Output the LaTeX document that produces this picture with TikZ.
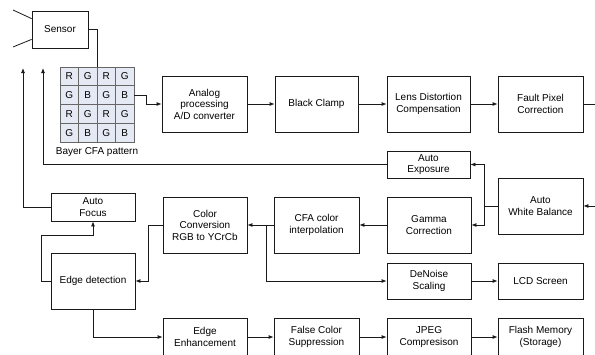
\documentclass[tikz,border=0pt]{standalone}
\usepackage{fontspec}
\setmainfont{Liberation Sans}
\usetikzlibrary{arrows.meta,calc}
\definecolor{cellblue}{HTML}{E4E9F3}
\definecolor{linecol}{HTML}{1A1A1A}
\begin{document}
\begin{tikzpicture}[x=1pt,y=-1pt,
  box/.style={draw=linecol,line width=0.8pt,rectangle,align=center,inner sep=1pt,
    font=\fontsize{10}{11.5}\selectfont},
  conn/.style={draw=linecol,line width=0.8pt},
  arr/.style={conn,-{Latex[length=5pt,width=4pt]}}]
\useasboundingbox (0,0) rectangle (595,354);
\clip (0,0) rectangle (595,354);
% boxes
\node[box,minimum width=56pt,minimum height=37pt] (sensor) at (60,29.5) {Sensor};
\node[box,minimum width=85pt,minimum height=56pt] (analog) at (204.5,104) {Analog\\processing\\A/D converter};
\node[box,minimum width=83pt,minimum height=56pt] (black) at (316.5,104) {Black Clamp};
\node[box,minimum width=83pt,minimum height=56pt] (lens) at (428.5,104) {Lens Distortion\\Compensation};
\node[box,minimum width=85pt,minimum height=56pt] (fault) at (540.5,104) {Fault Pixel\\Correction};
\node[box,minimum width=83pt,minimum height=27pt] (autoexp) at (428.5,164.5) {Auto\\Exposure};
\node[box,minimum width=85pt,minimum height=56pt] (awb) at (540.5,206) {Auto\\White Balance};
\node[box,minimum width=84pt,minimum height=56pt] (gamma) at (429,225) {Gamma\\Correction};
\node[box,minimum width=85pt,minimum height=56pt] (cfa) at (316.5,225) {CFA color\\interpolation};
\node[box,minimum width=84pt,minimum height=56pt] (colconv) at (205,225) {Color\\Conversion\\RGB to YCrCb};
\node[box,minimum width=84pt,minimum height=28pt] (autofocus) at (93,207) {Auto\\Focus};
\node[box,minimum width=84pt,minimum height=56pt] (edgedet) at (93,281) {Edge detection};
\node[box,minimum width=84pt,minimum height=36pt] (denoise) at (429,281) {DeNoise\\Scaling};
\node[box,minimum width=85pt,minimum height=36pt] (lcd) at (540.5,281) {LCD Screen};
\node[box,minimum width=84pt,minimum height=38pt] (edgeenh) at (205,337) {Edge\\Enhancement};
\node[box,minimum width=85pt,minimum height=38pt] (falsecol) at (316.5,337) {False Color\\Suppression};
\node[box,minimum width=84pt,minimum height=38pt] (jpeg) at (429,337) {JPEG\\Compresison};
\node[box,minimum width=85pt,minimum height=38pt] (flash) at (540.5,337) {Flash Memory\\(Storage)};
% Bayer grid
\foreach \r [count=\i from 0] in {{R,G,R,G},{G,B,G,B},{R,G,R,G},{G,B,G,B}}{
  \foreach \c [count=\j from 0] in \r {
    \ifx\c G\def\fillc{white}\else\def\fillc{cellblue}\fi
    \node[draw=gray!80!black,line width=0.6pt,fill=\fillc,minimum width=18.5pt,minimum height=18.75pt,
      inner sep=0pt,font=\fontsize{10}{11}\selectfont] (cell\i\j) at (69.25+18.5*\j,76.4+18.75*\i) {\c};
  }
}
\node[draw=gray!80!black,line width=0.6pt,minimum width=74pt,minimum height=75pt,inner sep=0pt] (bayer) at (97,104.5) {};
\node[font=\fontsize{10}{11}\selectfont,anchor=center] (bayerlbl) at (97,152) {Bayer CFA pattern};
% sensor input lines
\coordinate (s1) at (13,10);
\coordinate (s2) at (13,47);
\draw[conn] (s1) -- ($(sensor.north west)+(0,8)$);
\draw[conn] (s2) -- ($(sensor.south west)+(0,-9)$);
% feedback arrow ends
\coordinate (fbA) at (23,68);
\coordinate (fbB) at (43,68);
\coordinate (j1) at (484,206);
\coordinate (j2) at (266,225);
\coordinate (offR1) at (595,104);
\coordinate (offR2) at (595,206);
% connectors
\draw[conn] (sensor.east) -| (bayer.north);
\draw[arr] (cell13.east) -- ++(12,0) |- (analog.west);
\draw[arr] (analog) -- (black);
\draw[arr] (black) -- (lens);
\draw[arr] (lens) -- (fault);
\draw[conn] (fault.east) -- (offR1);
\draw[arr] (offR2) -- (awb.east);
\draw[conn] (awb.west) -- (j1);
\draw[arr] (j1) |- (autoexp.east);
\draw[arr] (j1) |- (gamma.east);
\draw[arr] (autoexp.west) -| (fbB);
\draw[arr] (gamma) -- (cfa);
\draw[arr] (cfa) -- (colconv);
\draw[arr] (j2) |- (denoise.west);
\draw[arr] (colconv.west) -- ++(-14,0) |- (edgedet.east);
\draw[arr] (edgedet.west) -- ++(-9,0) |- ($(autofocus.south)+(0,14)$) -- (autofocus.south);
\draw[arr] (autofocus.west) -| (fbA);
\draw[arr] (edgedet.south) |- (edgeenh.west);
\draw[arr] (edgeenh) -- (falsecol);
\draw[arr] (falsecol) -- (jpeg);
\draw[arr] (jpeg) -- (flash);
\draw[arr] (denoise) -- (lcd);
\end{tikzpicture}
\end{document}
